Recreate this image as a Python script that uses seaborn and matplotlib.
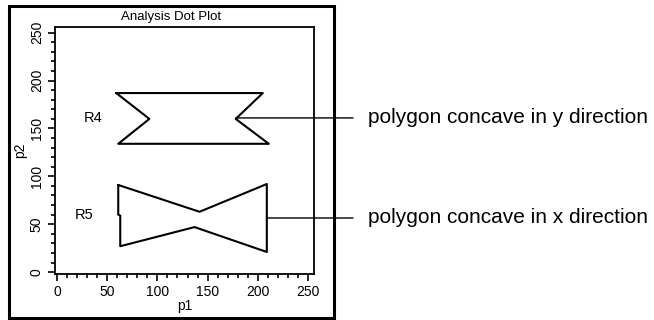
import matplotlib
matplotlib.use("Agg")
import matplotlib.pyplot as plt
import matplotlib.transforms as mtransforms
from matplotlib.patches import Rectangle
from matplotlib.ticker import MultipleLocator
import seaborn as sns

# gate polygons (p1, p2), closed
r4_x = [59, 92, 61, 211, 178, 205, 59]
r4_y = [187, 160, 134, 134, 160, 187, 187]
r5_x = [61, 61, 63, 63, 137, 209, 209, 142, 61]
r5_y = [91, 60, 59, 27, 47, 21, 92, 63, 91]

region_names = ["R4", "R5"]
region_label_x = [36, 27]
region_label_y = [161, 60]

callout_texts = ["polygon concave in y direction", "polygon concave in x direction"]
callout_x = [178, 209]
callout_y = [161, 56.5]

ticks = [0, 50, 100, 150, 200, 250]

sns.set_style("ticks")
plt.rcParams["font.family"] = ["Liberation Sans", "DejaVu Sans"]
plt.rcParams.update({"text.color": "black", "axes.labelcolor": "black",
                     "xtick.color": "black", "ytick.color": "black"})

fig = plt.figure(figsize=(6.54, 3.2), dpi=100)
ax = fig.add_axes([55 / 654, 1 - 274 / 320, 259 / 654, 247 / 320])

sns.lineplot(x=r4_x, y=r4_y, sort=False, estimator=None, color="black", lw=1.5, ax=ax)
sns.lineplot(x=r5_x, y=r5_y, sort=False, estimator=None, color="black", lw=1.5, ax=ax)

for name, lx, ly in zip(region_names, region_label_x, region_label_y):
    ax.text(lx, ly, name, fontsize=10.5, ha="center", va="center")

ax.set_xlim(-2, 256)
ax.set_ylim(-2, 256)
ax.set_xticks(ticks)
ax.set_yticks(ticks)
ax.set_xticklabels([str(t) for t in ticks])
ax.set_yticklabels([str(t) for t in ticks], rotation=90, va="center")
ax.xaxis.set_minor_locator(MultipleLocator(10))
ax.yaxis.set_minor_locator(MultipleLocator(10))
ax.tick_params(which="major", direction="out", length=5, width=1.2, labelsize=10, pad=3, color="black")
ax.tick_params(which="minor", direction="out", length=3, width=1.2, color="black")
for s in ax.spines.values():
    s.set_visible(True)
    s.set_color("black")
    s.set_linewidth(1.3)
ax.set_xlabel("p1", fontsize=10, labelpad=0)
ax.set_ylabel("p2", fontsize=10, labelpad=2)

fig.text(171 / 654, 1 - 17 / 320, "Analysis Dot Plot", fontsize=9.5, ha="center", va="center")

# outer frame
fig.patches.append(Rectangle((8.5 / 654, 2 / 320), (334 - 8.5) / 654, (314.5 - 2) / 320,
                             transform=fig.transFigure, fill=False, ec="black", lw=2.2))

# callout lines and texts
blend = mtransforms.blended_transform_factory(fig.transFigure, ax.transData)
for txt, cx, cy in zip(callout_texts, callout_x, callout_y):
    ax.annotate("", xy=(cx, cy), xycoords="data", xytext=(353 / 654, cy), textcoords=blend,
                arrowprops=dict(arrowstyle="-", color="black", lw=1, shrinkA=0, shrinkB=0))
    ax.text(368 / 654, cy, txt, transform=blend, fontsize=15, ha="left", va="center", clip_on=False)

fig.savefig("out.png", dpi=100)
